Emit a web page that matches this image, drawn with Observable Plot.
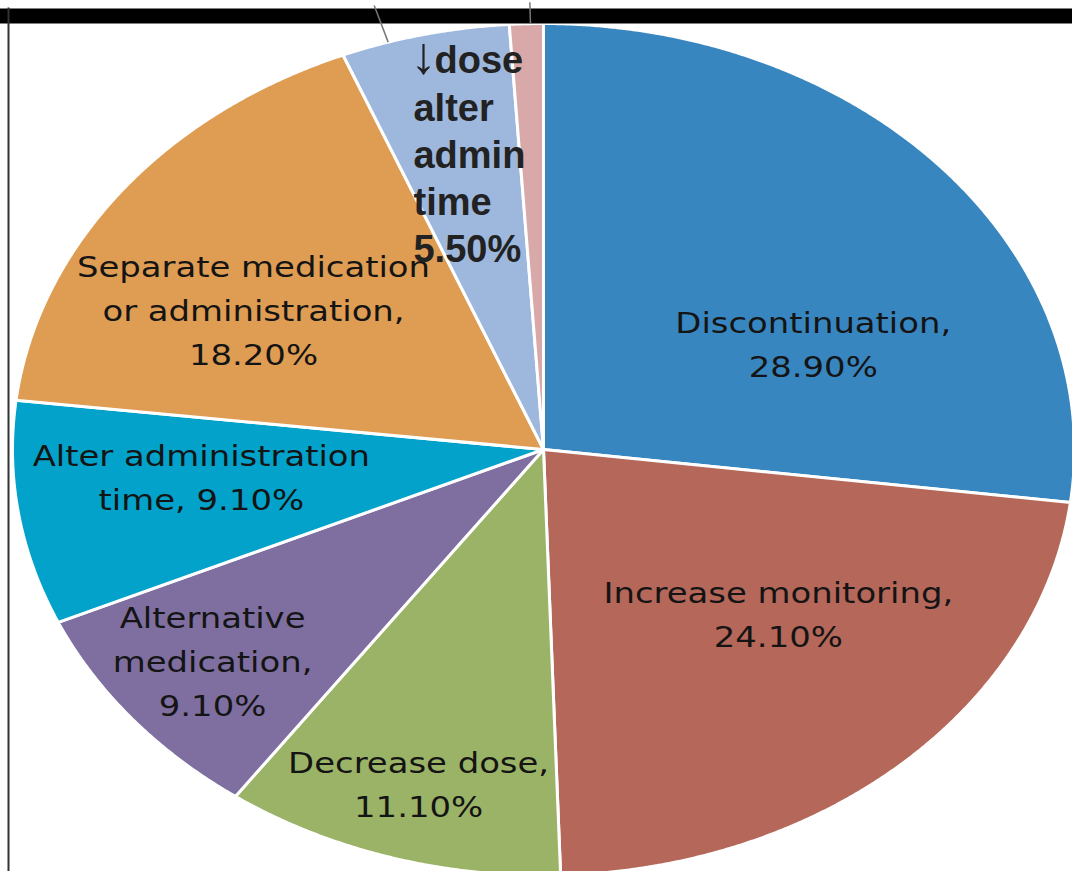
<!DOCTYPE html>
<html>
<head>
<meta charset="utf-8">
<script src="https://cdn.jsdelivr.net/npm/d3@7"></script>
<script src="https://cdn.jsdelivr.net/npm/@observablehq/plot@0.6"></script>
<style>
  body { margin: 0; background: #fff; }
  #chart svg { display: block; }
</style>
</head>
<body>
<div id="chart"></div>
<script>
// ---- data ----
const categories = [
  "Discontinuation",
  "Increase monitoring",
  "Decrease dose",
  "Alternative medication",
  "Alter administration time",
  "Separate medication or administration",
  "↓dose alter admin time",
  "Other"
];
const values = [28.9, 24.1, 11.1, 9.1, 9.1, 18.2, 5.5, 1.1];
const labelTexts = [
  "Discontinuation,\n28.90%",
  "Increase monitoring,\n24.10%",
  "Decrease dose,\n11.10%",
  "Alternative\nmedication,\n9.10%",
  "Alter administration\ntime, 9.10%",
  "Separate medication\nor administration,\n18.20%",
  "↓dose\nalter\nadmin\ntime\n5.50%",
  ""
];
const colors = ["#3886BF", "#B5675A", "#9BB367", "#7E6FA0", "#03A2CA", "#DF9C53", "#9EB8DD", "#D9A8A8"];

// ---- layout (label placement relative to slice mid-angle) ----
const labelShift = [15.9, -6.2, -0.2, 0.5, 2.6, -6.7, -6.6, 0];   // degrees
const labelRadius = [0.563, 0.59, 0.823, 0.799, 0.648, 0.634, 0.732, 0];
const boldIndex = 6;
const leaderSpec = [ {i: 6, frac: 0.28, r1: 1.0, r2: 1.09}, {i: 7, frac: 0.62, r1: 1.0, r2: 1.05} ];

// ---- geometry from data ----
const deg = 180 / Math.PI;
const arcs = d3.pie().sort(null).value(d => d)(values);
const slices = [];
arcs.forEach((a, i) => {
  slices.push({name: categories[i], x: 0, y: 0});
  const n = Math.max(2, Math.ceil((a.endAngle - a.startAngle) * deg * 4));
  for (let k = 0; k <= n; k++) {
    const t = a.startAngle + (a.endAngle - a.startAngle) * k / n;
    slices.push({name: categories[i], x: Math.sin(t), y: Math.cos(t)});
  }
});
const labels = arcs.map((a, i) => {
  const t = (a.startAngle + a.endAngle) / 2 + labelShift[i] / deg;
  return {i, text: labelTexts[i], x: labelRadius[i] * Math.sin(t), y: labelRadius[i] * Math.cos(t)};
}).filter(d => d.text);
const regular = labels.filter(d => d.i !== boldIndex);
const bold = labels.filter(d => d.i === boldIndex);
const leaders = leaderSpec.map(s => {
  const a = arcs[s.i];
  const t = a.startAngle + (a.endAngle - a.startAngle) * s.frac;
  return {x1: s.r1 * Math.sin(t), y1: s.r1 * Math.cos(t), x2: s.r2 * Math.sin(t), y2: s.r2 * Math.cos(t)};
});

const plot = Plot.plot({
  width: 1072,
  height: 871,
  margin: 0,
  x: {domain: [-1, 1], range: [12, 1074], axis: null},
  y: {domain: [-1, 1], range: [875, 23], axis: null},
  color: {type: "ordinal", domain: categories, range: colors},
  style: {background: "white"},
  marks: [
    Plot.line(slices, {x: "x", y: "y", z: "name", fill: "name", stroke: "white", strokeWidth: 3, strokeLinejoin: "round", curve: "linear-closed"}),
    Plot.text(regular, {x: "x", y: "y", dy: -5, text: "text", fontFamily: "DejaVu Sans, Verdana, sans-serif", fontSize: 28, lineHeight: 1.57, fill: "#141414"}),
    Plot.text(bold, {x: "x", y: "y", dy: -3, text: "text", fontFamily: "Liberation Sans, Arial, sans-serif", fontWeight: "bold", fontSize: 38, lineHeight: 1.24, textAnchor: "start", fill: "#222"}),
    Plot.frame({anchor: "top", stroke: "black", strokeWidth: 15, insetTop: 15.5, insetLeft: 7}),
    Plot.frame({anchor: "left", stroke: "#333", strokeWidth: 2, insetLeft: 8, insetTop: 8}),
    Plot.link(leaders, {x1: "x1", y1: "y1", x2: "x2", y2: "y2", stroke: "#777", strokeWidth: 1.5})
  ]
});

// stretch regular labels horizontally, like the source image
plot.querySelectorAll('g[font-family^="DejaVu"] text').forEach(t => {
  const tr = t.getAttribute("transform");
  if (tr) {
    t.setAttribute("transform", tr + " scale(1.21,1)");
  } else {
    const x = t.getAttribute("x") || 0, y = t.getAttribute("y") || 0;
    t.removeAttribute("x"); t.removeAttribute("y");
    t.setAttribute("transform", `translate(${x},${y}) scale(1.21,1)`);
  }
});

// larger, thin arrow glyph in the bold label, as in the source
plot.querySelectorAll('g[font-weight="bold"] tspan').forEach(ts => {
  const s = ts.textContent;
  if (s.startsWith("↓")) {
    ts.textContent = "";
    const NS = "http://www.w3.org/2000/svg";
    const a = document.createElementNS(NS, "tspan");
    a.setAttribute("font-size", "52");
    a.setAttribute("font-weight", "normal");
    a.setAttribute("dx", "-3");
    a.textContent = "↓";
    const b = document.createElementNS(NS, "tspan");
    b.setAttribute("dx", "-2");
    b.textContent = s.slice(1);
    ts.appendChild(a); ts.appendChild(b);
  }
});

document.getElementById("chart").appendChild(plot);
</script>
</body>
</html>
